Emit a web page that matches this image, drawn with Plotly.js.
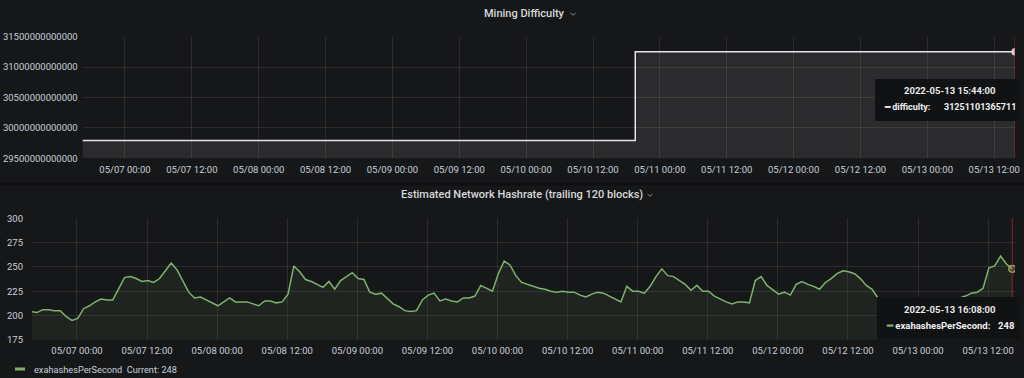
<!DOCTYPE html>
<html>
<head>
<meta charset="utf-8">
<script src="https://cdn.plot.ly/plotly-3.0.1.min.js"></script>
<style>
html,body{margin:0;padding:0;background:#161719;}
#chart{width:1024px;height:378px;}
</style>
</head>
<body>
<div id="chart"></div>
<script>
// ---------------- DATA ----------------
// Mining difficulty (step series)
const diffTimes = ['2022-05-06 16:00', '2022-05-10 19:35', '2022-05-13 15:44'];
const diffValues = [29794407589312, 31251101365711, 31251101365711];
const diffTicks = [29500000000000, 30000000000000, 30500000000000, 31000000000000, 31500000000000];
const diffSeriesName = 'difficulty';

// Estimated network hashrate, hourly readings starting 2022-05-06 16:08
const hashStart = '2022-05-06 16:08';
const hashValues = [
  204,203,206,206,205,205,199,195,197,207,210,214,
  217,216,216,228,239,240,238,235,236,234,238,246,
  254,247,236,224,218,219,216,213,210,214,218,214,
  214,214,212,210,215,215,213,214,222,251,245,237,
  235,232,229,235,227,236,240,244,238,237,224,222,
  223,217,212,209,205,204,205,216,221,223,215,217,
  215,214,218,218,220,231,228,225,243,256,252,241,
  234,232,230,228,227,225,224,225,224,224,221,219,
  222,224,223,220,217,214,230,225,225,223,230,240,
  248,241,240,236,232,226,231,225,225,220,217,214,
  212,214,214,213,236,240,231,226,222,224,221,232,
  235,232,230,227,234,238,243,246,245,243,238,231,
  227,218,216,214,212,210,212,214,211,213,210,212,
  214,216,217,218,220,223,224,228,249,251,261,253,
  248
];
const hashTicks = [175, 200, 225, 250, 275, 300];
const hashSeriesName = 'exahashesPerSecond';

const titleTop = 'Mining Difficulty';
const titleBottom = 'Estimated Network Hashrate (trailing 120 blocks)';

// ---------------- HELPERS ----------------
function pad(n){return (n<10?'0':'')+n;}
function fmt(d){
  return d.getUTCFullYear()+'-'+pad(d.getUTCMonth()+1)+'-'+pad(d.getUTCDate())+' '+pad(d.getUTCHours())+':'+pad(d.getUTCMinutes());
}
const startMs = Date.parse(hashStart.replace(' ','T')+':00Z');
const hashTimes = hashValues.map((v,i)=>fmt(new Date(startMs + i*3600000)));

const W=1024, H=378;
const X = p => p/W;
const Y = p => 1 - p/H;

const BG = '#161719';
const GRID = 'rgba(255,255,255,0.09)';
const TICK = '#c7d0d9';
const GREEN = '#7eb26d';
const FONT = 'Roboto, "Open Sans", sans-serif';

const lastDiffT = diffTimes[diffTimes.length-1];
const lastDiffV = diffValues[diffValues.length-1];
const lastHashT = hashTimes[hashTimes.length-1];
const lastHashV = hashValues[hashValues.length-1];

function chevron(cx, cy){
  return {type:'path', xref:'paper', yref:'paper',
    path:'M '+X(cx-2.5)+','+Y(cy-1.2)+' L '+X(cx)+','+Y(cy+1.3)+' L '+X(cx+2.5)+','+Y(cy-1.2),
    line:{color:'#8e8e8e', width:1}};
}

// ---------------- TRACES ----------------
const traces = [
  {
    x: diffTimes, y: diffValues, xaxis:'x', yaxis:'y',
    type:'scatter', mode:'lines', line:{shape:'hv', color:'#e6e3ea', width:1.5},
    fill:'tozeroy', fillcolor:'rgba(255,255,255,0.09)', hoverinfo:'skip'
  },
  {
    x:[lastDiffT], y:[lastDiffV], xaxis:'x', yaxis:'y', type:'scatter', mode:'markers',
    marker:{size:7, color:'#cfc8cc', line:{color:'rgba(255,200,210,0.6)', width:1}}, hoverinfo:'skip'
  },
  {
    x: hashTimes, y: hashValues, xaxis:'x2', yaxis:'y2',
    type:'scatter', mode:'lines', line:{color:GREEN, width:1.5},
    fill:'tozeroy', fillcolor:'rgba(126,178,109,0.09)', hoverinfo:'skip'
  },
  {
    x:[lastHashT], y:[lastHashV], xaxis:'x2', yaxis:'y2', type:'scatter', mode:'markers',
    marker:{size:7, color:'rgba(126,178,109,0.35)', line:{color:'#b7a36a', width:1.2}}, hoverinfo:'skip'
  }
];

const xCommon = {
  type:'date', tick0:'2022-05-07 00:00', dtick:43200000, tickformat:'%m/%d %H:%M',
  showgrid:true, gridcolor:GRID, gridwidth:1, zeroline:false, showline:false, ticks:'',
  tickfont:{family:FONT, size:9.5, color:TICK}, fixedrange:true, ticklabelstandoff:4
};
const yCommon = {
  showgrid:true, gridcolor:GRID, gridwidth:1, zeroline:false, showline:false, ticks:'',
  tickfont:{family:FONT, size:9.5, color:TICK}, fixedrange:true
};

const tipFont = sz => ({family:FONT, size:sz, color:'#f0f0f0', weight:700});

const layout = {
  width:W, height:H, margin:{l:0,r:0,t:0,b:0},
  paper_bgcolor:BG, plot_bgcolor:'rgba(0,0,0,0)', showlegend:false,
  font:{family:FONT, color:TICK},
  xaxis: Object.assign({}, xCommon, {domain:[X(82.7), X(1015)], anchor:'y',
    range:['2022-05-06 16:25', lastDiffT]}),
  yaxis: Object.assign({}, yCommon, {domain:[Y(158.3), Y(36.7)], anchor:'x',
    range:[diffTicks[0], diffTicks[diffTicks.length-1]],
    tickvals:diffTicks, ticktext:diffTicks.map(v=>String(v)), ticklabelstandoff:4}),
  xaxis2: Object.assign({}, xCommon, {domain:[X(32), X(1015)], anchor:'y2',
    range:['2022-05-06 16:18', '2022-05-13 16:36']}),
  yaxis2: Object.assign({}, yCommon, {domain:[Y(339.8), Y(218.3)], anchor:'x2',
    range:[hashTicks[0], hashTicks[hashTicks.length-1]],
    tickvals:hashTicks, ticktext:hashTicks.map(String), ticklabelstandoff:8}),
  shapes: [
    {type:'rect', xref:'paper', yref:'paper', x0:0, x1:1, y0:Y(185.5), y1:Y(182.5),
     fillcolor:'#0e0f11', line:{width:0}, layer:'below'},
    {type:'line', xref:'x', yref:'y domain', x0:lastDiffT, x1:lastDiffT, y0:0, y1:1,
     line:{color:'rgba(190,40,40,0.7)', width:1}, layer:'above'},
    {type:'line', xref:'x2', yref:'y2 domain', x0:lastHashT, x1:lastHashT, y0:0, y1:1,
     line:{color:'rgba(190,40,40,0.7)', width:1}, layer:'above'},
    {type:'rect', xref:'paper', yref:'paper', x0:X(875), x1:X(1020), y0:Y(121), y1:Y(79),
     fillcolor:'#111214', line:{width:0}, layer:'above'},
    {type:'rect', xref:'paper', yref:'paper', x0:X(877), x1:X(1020), y0:Y(339.5), y1:Y(297),
     fillcolor:'#111214', line:{width:0}, layer:'above'},
    {type:'line', xref:'paper', yref:'paper', x0:X(15), x1:X(25), y0:Y(369), y1:Y(369),
     line:{color:GREEN, width:3}},
    chevron(573, 14),
    chevron(650, 195)
  ],
  annotations: [
    {xref:'paper', yref:'paper', x:X(524), y:Y(13), text:titleTop, showarrow:false,
     font:{family:FONT, size:11, color:'#d8d9da', weight:500}, xanchor:'center', yanchor:'middle'},
    {xref:'paper', yref:'paper', x:X(522), y:Y(194), text:titleBottom, showarrow:false,
     font:{family:FONT, size:11, color:'#d8d9da', weight:500}, xanchor:'center', yanchor:'middle'},
    {xref:'paper', yref:'paper', x:X(32), y:Y(369), xanchor:'left', yanchor:'middle', showarrow:false,
     text: hashSeriesName + '&nbsp;&nbsp;Current: ' + lastHashV,
     font:{family:FONT, size:9.2, color:TICK}},
    {xref:'paper', yref:'paper', x:X(950), y:Y(90), xanchor:'center', yanchor:'middle', showarrow:false,
     text: lastDiffT + ':00', font:{family:FONT, size:9.5, color:'#e8e8e8', weight:700}},
    {xref:'paper', yref:'paper', x:X(882), y:Y(107), xanchor:'left', yanchor:'middle', showarrow:false,
     text: '<span style="color:#e6e3ea">━</span> ' + diffSeriesName + ':', font:tipFont(9)},
    {xref:'paper', yref:'paper', x:X(1018), y:Y(107), xanchor:'right', yanchor:'middle', showarrow:false,
     text: String(lastDiffV), font:tipFont(9)},
    {xref:'paper', yref:'paper', x:X(950), y:Y(309), xanchor:'center', yanchor:'middle', showarrow:false,
     text: lastHashT + ':00', font:{family:FONT, size:9.5, color:'#e8e8e8', weight:700}},
    {xref:'paper', yref:'paper', x:X(884), y:Y(325), xanchor:'left', yanchor:'middle', showarrow:false,
     text: '<span style="color:'+GREEN+'">━</span> ' + hashSeriesName + ':', font:tipFont(9.5)},
    {xref:'paper', yref:'paper', x:X(1017), y:Y(325), xanchor:'right', yanchor:'middle', showarrow:false,
     text: String(lastHashV), font:tipFont(9.5)}
  ]
};

Plotly.newPlot('chart', traces, layout, {displayModeBar:false, staticPlot:true});
</script>
</body>
</html>
